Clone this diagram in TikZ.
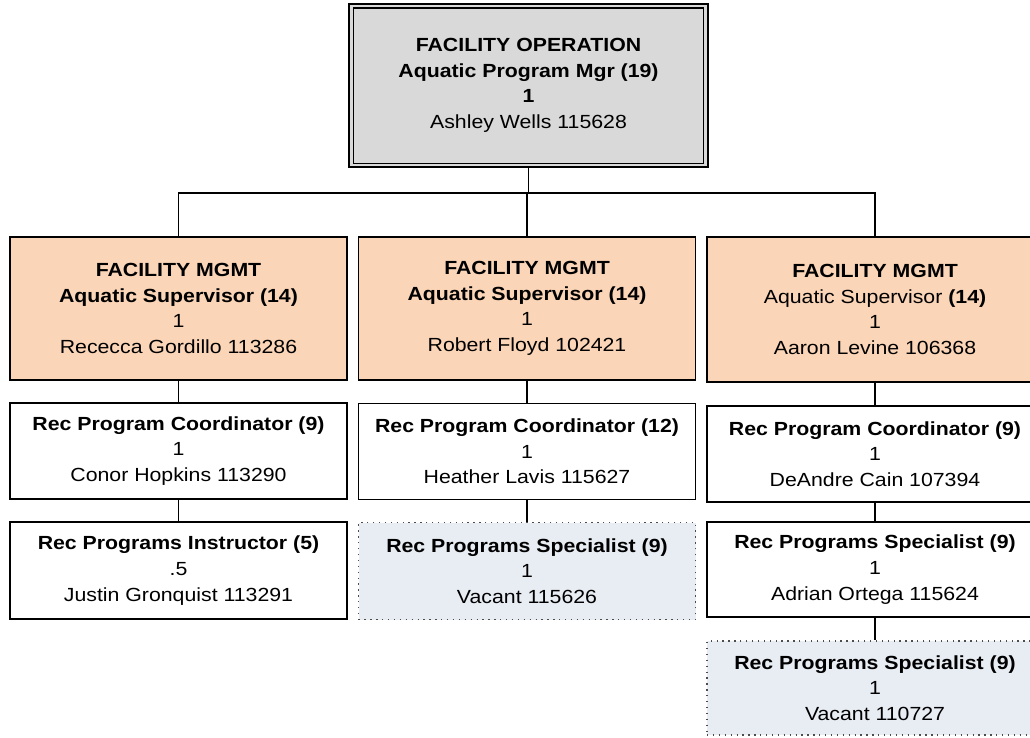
\documentclass[tikz,border=0pt]{standalone}
\usepackage{fontspec}
\setmainfont{Liberation Sans}[FakeStretch=1.12]
\definecolor{topgrey}{HTML}{D9D9D9}
\definecolor{peach}{HTML}{FBD5B7}
\definecolor{vacant}{HTML}{E8ECF3}
\tikzset{
  box/.style={draw=black, line width=1.3pt, fill=white, inner sep=0pt, align=center,
    minimum width=337pt, font=\fontsize{19}{25.6}\selectfont},
  supbox/.style={box, fill=peach, minimum height=143pt},
  crdbox/.style={box, minimum height=96pt},
  lowbox/.style={box, minimum height=97pt},
  vacbox/.style={box, draw=black!70, fill=vacant, dash pattern=on 1.3pt off 4.6pt, minimum height=97pt},
  conn/.style={line width=1.3pt, draw=black}
}
\begin{document}
\begin{tikzpicture}[x=1pt,y=-1pt]
\useasboundingbox (0,0) rectangle (1030,737);
% top
\node[box, fill=topgrey, minimum width=359pt, minimum height=163pt] (top) at (528.5,85.5)
  {\textbf{FACILITY OPERATION}\\\textbf{Aquatic Program Mgr (19)}\\\textbf{1}\\Ashley Wells 115628};
\draw[line width=1.3pt] ([xshift=5pt,yshift=-4.5pt]top.north west) rectangle ([xshift=-5pt,yshift=4.5pt]top.south east);
\coordinate (bus) at (528,193);
% level 2
\node[supbox] (a2) at (178.5,308.5) {\textbf{FACILITY MGMT}\\\textbf{Aquatic Supervisor (14)}\\1\\Rececca Gordillo 113286};
\node[supbox] (b2) at (527,308.5) {\textbf{FACILITY MGMT}\\\textbf{Aquatic Supervisor (14)}\\1\\Robert Floyd 102421};
\node[supbox, minimum width=336pt, minimum height=145pt] (c2) at (875,309.5) {\textbf{FACILITY MGMT}\\Aquatic Supervisor \textbf{(14)}\\1\\Aaron Levine 106368};
% level 3
\node[crdbox] (a3) at (178.5,451) {\textbf{Rec Program Coordinator (9)}\\1\\Conor Hopkins 113290};
\node[crdbox] (b3) at (527,451.5) {\textbf{Rec Program Coordinator (12)}\\1\\Heather Lavis 115627};
\node[crdbox, minimum width=336pt] (c3) at (875,454) {\textbf{Rec Program Coordinator (9)}\\1\\DeAndre Cain 107394};
% level 4
\node[lowbox] (a4) at (178.5,570.5) {\textbf{Rec Programs Instructor (5)}\\.5\\Justin Gronquist 113291};
\node[vacbox] (b4) at (527,571) {\textbf{Rec Programs Specialist (9)}\\1\\Vacant 115626};
\node[lowbox, minimum width=336pt, minimum height=95pt] (c4) at (875,569.5) {\textbf{Rec Programs Specialist (9)}\\1\\Adrian Ortega 115624};
% level 5
\node[vacbox, minimum width=336pt, minimum height=94pt] (c5) at (875,688) {\textbf{Rec Programs Specialist (9)}\\1\\Vacant 110727};
% connectors
\draw[conn] (top.south) -- (top.south |- bus);
\draw[conn] (a2.north) -- (a2.north |- bus) -- (c2.north |- bus) -- (c2.north);
\draw[conn] (b2.north) -- (b2.north |- bus);
\draw[conn] (a2.south) -- (a3.north);
\draw[conn] (b2.south) -- (b3.north);
\draw[conn] (c2.south) -- (c3.north);
\draw[conn] (a3.south) -- (a4.north);
\draw[conn] (b3.south) -- (b4.north);
\draw[conn] (c3.south) -- (c4.north);
\draw[conn] (c4.south) -- (c5.north);
\end{tikzpicture}
\end{document}
